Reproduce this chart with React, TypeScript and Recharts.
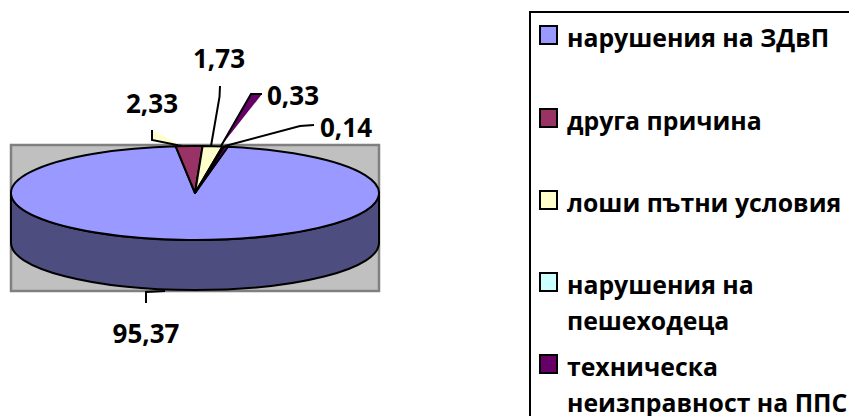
import React from "react";
import { PieChart, Pie, Cell, Legend } from "recharts";

const CATEGORIES = [
  "нарушения на ЗДвП",
  "друга причина",
  "лоши пътни условия",
  "нарушения на пешеходеца",
  "техническа неизправност на ППС",
];
const VALUES = [95.37, 2.33, 1.73, 0.14, 0.33];
const COLORS = ["#9999FF", "#993366", "#FFFFCC", "#CCFFFF", "#660066"];

const chartData = CATEGORIES.map((name, i) => ({ name, value: VALUES[i] }));

const FONT = "'Open Sans', sans-serif";
const CX = 195;
const CY = 193;
const RX = 184;
const RY = 47;
const DEPTH = 50;
const WALL = "#4D4D80";
const START_ANGLE = 79.7;

// Excel-like label spots and leaders, same order as the data
const LABEL_SPOTS = [
  { x: 146, y: 333, line: "146,303 146,292 165,291", fill: "none" },
  { x: 152, y: 103, line: "152,130 152,140 182,146", fill: "#FFFFCC" },
  { x: 219, y: 58, line: "220,86 219.5,97 211,146", fill: "none" },
  { x: 346, y: 127, line: "314,125 300,126 225,146", fill: "none" },
  { x: 293, y: 95, line: "262,94 251,94 221,146", fill: "#660066" },
];

const ellipsePoint = (a: number, dy = 0) => {
  const rad = (a * Math.PI) / 180;
  return [CX + RX * Math.cos(rad), CY + dy - RY * Math.sin(rad)];
};

// Pie sector squashed into an ellipse, so it looks like a tilted 3D pie
const TopSector = (props: any) => {
  const { startAngle, endAngle, fill, stroke } = props;
  const [x0, y0] = ellipsePoint(startAngle);
  const [x1, y1] = ellipsePoint(endAngle);
  const large = Math.abs(endAngle - startAngle) > 180 ? 1 : 0;
  const sweep = endAngle < startAngle ? 1 : 0;
  return (
    <path
      d={`M${CX},${CY} L${x0},${y0} A${RX},${RY} 0 ${large} ${sweep} ${x1},${y1} Z`}
      fill={fill}
      stroke={stroke}
      strokeWidth={2}
      strokeLinejoin="round"
    />
  );
};

// Only the part of a sector that faces the viewer gets a wall
const WallSector = (props: any) => {
  const { startAngle, endAngle, stroke } = props;
  const lo = Math.max(Math.min(startAngle, endAngle), -180);
  const hi = Math.min(Math.max(startAngle, endAngle), 0);
  if (lo >= hi) return <g />;
  const [x0, y0] = ellipsePoint(hi);
  const [x1, y1] = ellipsePoint(lo);
  const [x2, y2] = ellipsePoint(lo, DEPTH);
  const [x3, y3] = ellipsePoint(hi, DEPTH);
  return (
    <path
      d={`M${x0},${y0} A${RX},${RY} 0 0 1 ${x1},${y1} L${x2},${y2} A${RX},${RY} 0 0 0 ${x3},${y3} Z`}
      fill={WALL}
      stroke={stroke}
      strokeWidth={2}
    />
  );
};

const renderLabel = (props: any) => {
  const spot = LABEL_SPOTS[props.index];
  return (
    <g key={props.index}>
      <polyline points={spot.line} fill={spot.fill} stroke="#000" strokeWidth={2} />
      <text
        x={spot.x}
        y={spot.y}
        textAnchor="middle"
        dominantBaseline="central"
        fontFamily={FONT}
        fontWeight={700}
        fontSize={26}
        fill="#000"
      >
        {VALUES[props.index].toFixed(2).replace(".", ",")}
      </text>
    </g>
  );
};

const LEGEND_ROWS = [
  { top: 25, lines: ["нарушения на ЗДвП"] },
  { top: 108, lines: ["друга причина"] },
  { top: 190, lines: ["лоши пътни условия"] },
  { top: 272, lines: ["нарушения на", "пешеходеца"] },
  { top: 354, lines: ["техническа", "неизправност на ППС"] },
];

const LegendBox = () => (
  <div style={{ position: "relative", width: 400, height: 500, border: "2px solid #000", background: "#fff" }}>
    {LEGEND_ROWS.map((row, i) => (
      <div key={i}>
        <div
          style={{
            position: "absolute",
            left: 8,
            top: row.top - 13,
            width: 15,
            height: 16,
            background: COLORS[i],
            border: "2px solid #000",
          }}
        />
        <div
          style={{
            position: "absolute",
            left: 36,
            top: row.top - 19,
            fontFamily: FONT,
            fontWeight: 700,
            fontSize: 24.8,
            lineHeight: "36px",
            color: "#000",
            whiteSpace: "nowrap",
          }}
        >
          {row.lines.map((line) => (
            <div key={line}>{line}</div>
          ))}
        </div>
      </div>
    ))}
  </div>
);

export default function App() {
  return (
    <div style={{ position: "fixed", left: 0, top: 0, width: 849, height: 416, overflow: "hidden", background: "#fff" }}>
      <PieChart width={849} height={416} margin={{ top: 0, right: 0, bottom: 0, left: 0 }}>
        <rect x={11} y={145} width={368} height={146} fill="#C0C0C0" stroke="#808080" strokeWidth={2.5} />
        <Pie
          data={chartData}
          dataKey="value"
          nameKey="name"
          cx={CX}
          cy={CY}
          outerRadius={RX}
          startAngle={START_ANGLE}
          endAngle={START_ANGLE - 360}
          stroke="#000"
          shape={WallSector}
          legendType="none"
          isAnimationActive={false}
        />
        <Pie
          data={chartData}
          dataKey="value"
          nameKey="name"
          cx={CX}
          cy={CY}
          outerRadius={RX}
          startAngle={START_ANGLE}
          endAngle={START_ANGLE - 360}
          stroke="#000"
          shape={TopSector}
          label={renderLabel}
          labelLine={false}
          isAnimationActive={false}
        >
          {chartData.map((_, i) => (
            <Cell key={i} fill={COLORS[i]} />
          ))}
        </Pie>
        <Legend
          content={<LegendBox />}
          wrapperStyle={{ position: "absolute", left: 529, top: 11, width: 400, height: 500 }}
        />
      </PieChart>
    </div>
  );
}
